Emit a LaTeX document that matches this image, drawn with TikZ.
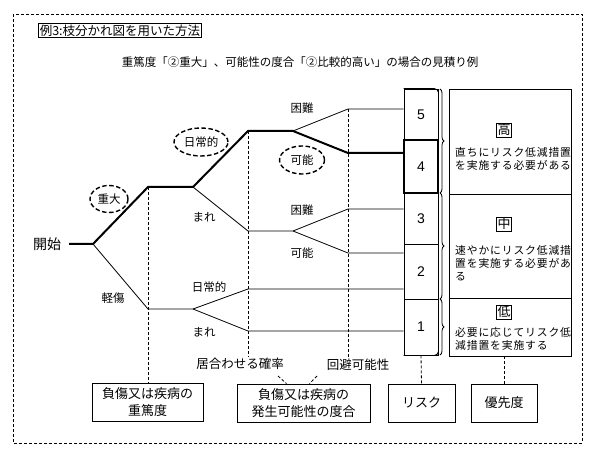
\documentclass[tikz,border=0pt]{standalone}
\usepackage{fontspec}
\setmainfont{Noto Sans CJK JP}
\newfontfamily\numfont{Liberation Sans}
\usetikzlibrary{shapes.geometric,decorations.pathreplacing}

\tikzset{
  fine/.style={line width=0.8pt},
  bold/.style={line width=2pt},
  guide/.style={line width=0.8pt, dash pattern=on 3pt off 2pt},
  choice/.style={ellipse, draw, line width=1.4pt, dash pattern=on 4.5pt off 2.5pt, inner sep=0.5pt},
  lbl/.style={font=\fontsize{11.5}{13}\selectfont, inner sep=1pt},
  namebox/.style={draw, line width=0.8pt, align=center, minimum height=38pt, inner sep=2pt,
    font=\fontsize{13}{17}\selectfont},
  cell/.style={draw, line width=0.8pt, minimum width=34pt, inner sep=0pt, font=\numfont\fontsize{14}{14}\selectfont},
  panel/.style={draw, line width=0.8pt, minimum width=122pt, inner sep=0pt},
  grade/.style={draw, line width=0.6pt, inner sep=1pt, font=\fontsize{13}{13}\selectfont},
  note/.style={align=left, anchor=west, inner sep=0pt,
    font=\fontsize{10.8}{13}\selectfont\addfontfeature{LetterSpace=8}}
}

\begin{document}
\begin{tikzpicture}[x=1pt, y=-1pt]
    \useasboundingbox (0,0) rectangle (597,457);
    \draw[guide] (13,14) rectangle (582,443);

    % titles
    \node[draw, fine, inner sep=1pt, font=\fontsize{12.5}{14}\selectfont] (title) at (120,30.5) {例3:枝分かれ図を用いた方法};
    \node[font=\fontsize{11.5}{14}\selectfont] (sub) at (300,62) {重篤度「②重大」、可能性の度合「②比較的高い」の場合の見積り例};

    % branch points
    \coordinate (a) at (93,244);
    \coordinate (b1) at (148,187);  \coordinate (b2) at (193,187);
    \coordinate (c1) at (248,131);  \coordinate (c2) at (293,131);
    \coordinate (m1) at (248,231);  \coordinate (m2) at (293,231);
    \coordinate (l1) at (148,309);  \coordinate (l2) at (193,309);
    \coordinate (e5) at (348,109);  \coordinate (e4) at (348,153);
    \coordinate (e3) at (348,209);  \coordinate (e2) at (348,253);
    \coordinate (f2) at (248,289);  \coordinate (f1) at (248,331);

    % risk column
    \node[cell, minimum height=51pt] (r5) at (421,114.5) {5};
    \node[cell, minimum height=51pt] (r3) at (421,218.5) {3};
    \node[cell, minimum height=55pt] (r2) at (421,271.5) {2};
    \node[cell, minimum height=56pt] (r1) at (421,327) {1};
    \node[cell, minimum height=53pt, line width=2.2pt] (r4) at (421,166.5) {4};
    \draw[fine, rounded corners=4pt] (r5.north west) -- (r5.north east) -- (r1.south east) -- (r1.south west);

    % tree
    \node[font=\fontsize{14}{14}\selectfont, inner sep=0pt] (start) at (47,244) {開始};
    \draw[bold] ([xshift=8pt]start.east) -- (a) -- (b1) -- (b2) -- (c1) -- (c2) -- (e4) -- (e4 -| r4.west);
    \draw[fine] (c2) -- (e5) -- (e5 -| r5.west);
    \draw[fine] (b2) -- (m1) -- (m2) -- (e3) -- (e3 -| r3.west);
    \draw[fine] (m2) -- (e2) -- (e2 -| r2.west);
    \draw[fine] (a) -- (l1) -- (l2) -- (f2) -- (f2 -| r2.west);
    \draw[fine] (l2) -- (f1) -- (f1 -| r1.west);

    % branch labels
    \node[choice, lbl, minimum width=38pt, minimum height=27pt] (serious) at (109,199) {重大};
    \node[choice, lbl, minimum width=54pt, minimum height=28pt] (daily) at (201,142) {日常的};
    \node[choice, lbl, minimum width=45pt, minimum height=28pt] (able) at (302,160) {可能};
    \node[lbl] (hard) at (302,108) {困難};
    \node[lbl] (rare) at (204,217) {まれ};
    \node[lbl] (hard2) at (302,210) {困難};
    \node[lbl] (able2) at (302,253) {可能};
    \node[lbl] (light) at (113,298) {軽傷};
    \node[lbl] (daily2) at (209,287) {日常的};
    \node[lbl] (rare2) at (204,332) {まれ};

    % priority panels
    \node[panel, minimum height=105pt] (hi) at (510,141.5) {};
    \node[panel, minimum height=104pt] (mid) at (510,246) {};
    \node[panel, minimum height=58pt] (lo) at (510,327) {};
    \node[grade] (ghi) at (504,130) {高};
    \node[grade] (gmid) at (504,224) {中};
    \node[grade] (glo) at (504,312) {低};
    \node[note] (thi) at (455,158.5) {直ちにリスク低減措置\\を実施する必要がある};
    \node[note] (tmid) at (455,263.5) {速やかにリスク低減措\\置を実施する必要があ\\る};
    \node[note] (tlo) at (455,339) {必要に応じてリスク低\\減措置を実施する};

    % braces
    \draw[fine, decorate, decoration={brace, amplitude=4pt}] (440,89) -- (440,193);
    \draw[fine, decorate, decoration={brace, amplitude=4pt}] (440,193) -- (440,299);
    \draw[fine, decorate, decoration={brace, amplitude=4pt}] (440,299) -- (440,355);

    % bottom boxes
    \node[namebox, minimum width=111pt] (sev) at (147.5,402.5) {負傷又は疾病の\\重篤度};
    \node[namebox, minimum width=133pt] (lik) at (303.5,403) {負傷又は疾病の\\発生可能性の度合};
    \node[namebox, minimum width=67pt] (risk) at (421.5,403) {リスク};
    \node[namebox, minimum width=66pt] (prio) at (504,403) {優先度};
    \node[font=\fontsize{12.5}{14}\selectfont, inner sep=1pt] (prob) at (240,364) {居合わせる確率};
    \node[font=\fontsize{12.5}{14}\selectfont, inner sep=1pt] (avoid) at (358,365) {回避可能性};

    % guides
    \draw[guide] (b1) -- (b1 |- sev.north);
    \draw[guide] (c1) -- (c1 |- prob.north);
    \draw[guide] (e5) -- (e5 |- avoid.north);
    \draw[guide] (r1.south) -- (risk.north);
    \draw[guide] (lo.south -| prio) -- (prio.north);
    \draw[guide] (278,376) -- ([xshift=-17pt]lik.north);
    \draw[guide] (317,376) -- ([xshift=6pt]lik.north);
\end{tikzpicture}
\end{document}
